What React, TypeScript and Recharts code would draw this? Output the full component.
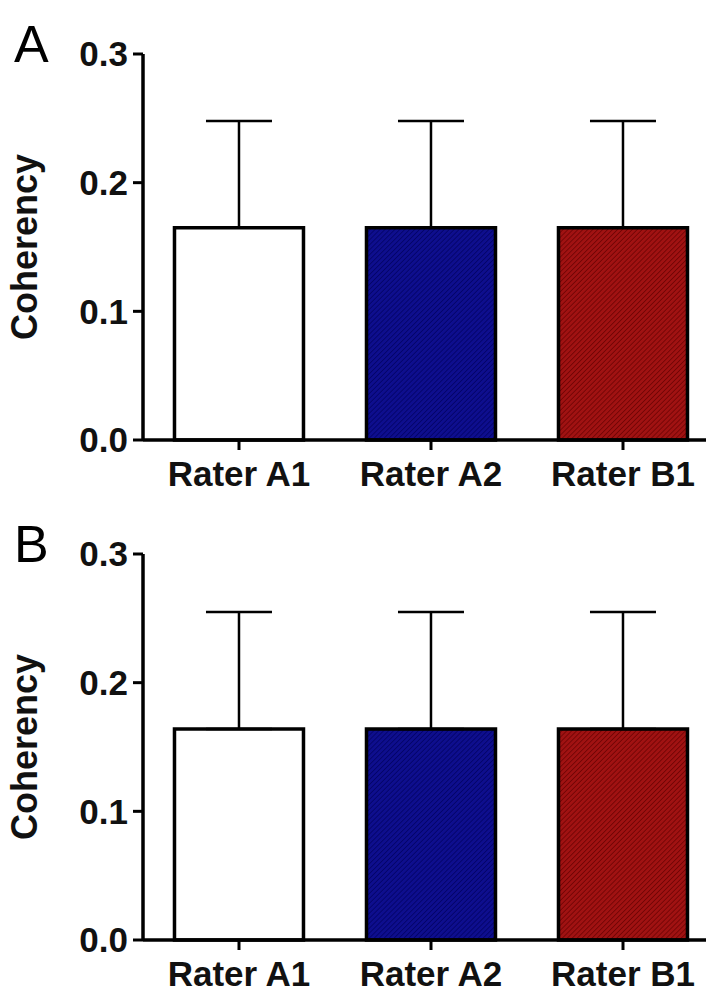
import { BarChart, Bar, XAxis, YAxis, ErrorBar, Cell } from 'recharts'

const raters = ['Rater A1', 'Rater A2', 'Rater B1']
const meanA = [0.165, 0.165, 0.165]
const errA = [0.083, 0.083, 0.083]
const meanB = [0.164, 0.164, 0.164]
const errB = [0.091, 0.091, 0.091]
const yTicks = [0, 0.1, 0.2, 0.3]
const fills = ['#ffffff', 'url(#hatchBlue)', 'url(#hatchRed)']

const font = '"Liberation Sans", Arial, sans-serif'

function Panel({ letter, means, errs, top }: { letter: string; means: number[]; errs: number[]; top: number }) {
  // only the upper whisker is drawn, like GraphPad does
  const data = raters.map((r, i) => ({ name: r, mean: means[i], err: [0, errs[i]] }))
  return (
    <div style={{ position: 'absolute', left: 0, top, width: 730, height: 500 }}>
      <div style={{ position: 'absolute', left: 14, top: 18, fontSize: 52, lineHeight: '52px', fontFamily: font, color: '#000' }}>
        {letter}
      </div>
      <BarChart width={730} height={500} data={data} margin={{ top: 54, right: 11, bottom: 0, left: 0 }} barCategoryGap="16.4%">
        <XAxis
          dataKey="name"
          height={60}
          axisLine={{ stroke: '#000', strokeWidth: 3.5 }}
          tickLine={{ stroke: '#000', strokeWidth: 3 }}
          tickSize={10}
          tickMargin={11}
          tick={{ fill: '#111', fontSize: 35, fontWeight: 700, fontFamily: font }}
        />
        <YAxis
          width={143}
          domain={[0, 0.3]}
          ticks={yTicks}
          tickFormatter={(v: number) => v.toFixed(1)}
          axisLine={{ stroke: '#000', strokeWidth: 3.5 }}
          tickLine={{ stroke: '#000', strokeWidth: 3 }}
          tickSize={10}
          tickMargin={5}
          tick={{ fill: '#111', fontSize: 35, fontWeight: 700, fontFamily: font }}
          label={{
            value: 'Coherency', angle: -90, position: 'center', dx: -47,
            style: { fill: '#111', fontSize: 36, fontWeight: 700, fontFamily: font },
          }}
        />
        <Bar dataKey="mean" stroke="#000" strokeWidth={3.5} isAnimationActive={false}>
          {data.map((d, i) => <Cell key={d.name} fill={fills[i]} />)}
          <ErrorBar dataKey="err" direction="y" width={33} stroke="#000" strokeWidth={2.5} />
        </Bar>
      </BarChart>
    </div>
  )
}

export default function App() {
  return (
    <div style={{ position: 'relative', margin: -8, width: 714, height: 994, overflow: 'hidden', background: '#fff' }}>
      <svg width={0} height={0} style={{ position: 'absolute' }}>
        <defs>
          <pattern id="hatchBlue" patternUnits="userSpaceOnUse" width={3.5} height={3.5} patternTransform="rotate(45)">
            <rect width={3.5} height={3.5} fill="#0e0e8e" />
            <line x1={0} y1={0} x2={0} y2={3.5} stroke="#00005c" strokeWidth={1.3} />
          </pattern>
          <pattern id="hatchRed" patternUnits="userSpaceOnUse" width={3.5} height={3.5} patternTransform="rotate(45)">
            <rect width={3.5} height={3.5} fill="#a01212" />
            <line x1={0} y1={0} x2={0} y2={3.5} stroke="#620000" strokeWidth={1.3} />
          </pattern>
        </defs>
      </svg>
      <Panel letter="A" means={meanA} errs={errA} top={0} />
      <Panel letter="B" means={meanB} errs={errB} top={500} />
    </div>
  )
}
